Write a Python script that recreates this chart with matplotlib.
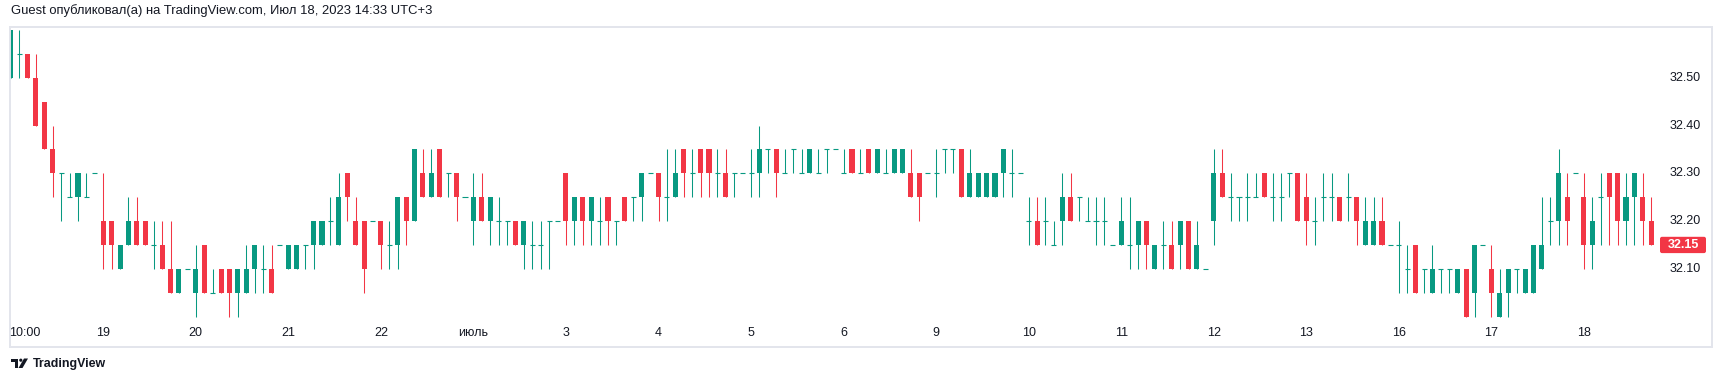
"""
Recreate TradingView snapshot: hourly candles, Jun 19 - Jul 18 2023
"""
import numpy as np
import matplotlib
matplotlib.use('Agg')
import matplotlib.pyplot as plt
from matplotlib.patches import FancyBboxPatch, Polygon, Circle
from matplotlib.transforms import blended_transform_factory, IdentityTransform

# ─── DATA ───────────────────────────────────────────────────────────────────
opens = [32.50, 32.55, 32.55, 32.50, 32.45, 32.35, 32.30, 32.25, 32.25, 32.25,
         32.30, 32.20, 32.20, 32.10, 32.15, 32.20, 32.20, 32.15, 32.15, 32.10,
         32.05, 32.10, 32.05, 32.15, 32.05, 32.10, 32.10, 32.05, 32.05, 32.10,
         32.10, 32.10, 32.15, 32.10, 32.10, 32.15, 32.15, 32.15, 32.20, 32.15,
         32.30, 32.20, 32.20, 32.20, 32.20, 32.15, 32.15, 32.25, 32.20, 32.30,
         32.25, 32.35, 32.30, 32.30, 32.25, 32.20, 32.25, 32.20, 32.20, 32.20,
         32.20, 32.15, 32.15, 32.15, 32.20, 32.20, 32.30, 32.20, 32.25, 32.20,
         32.20, 32.25, 32.20, 32.25, 32.25, 32.25, 32.30, 32.30, 32.25, 32.25,
         32.35, 32.30, 32.35, 32.35, 32.30, 32.30, 32.30, 32.30, 32.30, 32.30,
         32.35, 32.35, 32.30, 32.35, 32.30, 32.30, 32.30, 32.35, 32.35, 32.30,
         32.35, 32.30, 32.35, 32.30, 32.30, 32.30, 32.30, 32.30, 32.30, 32.30,
         32.30, 32.35, 32.35, 32.35, 32.25, 32.25, 32.25, 32.25, 32.30, 32.30,
         32.30, 32.20, 32.20, 32.20, 32.15, 32.20, 32.25, 32.25, 32.20, 32.20,
         32.20, 32.15, 32.15, 32.15, 32.15, 32.20, 32.10, 32.15, 32.15, 32.15,
         32.20, 32.10, 32.10, 32.20, 32.30, 32.25, 32.25, 32.25, 32.25, 32.30,
         32.25, 32.25, 32.30, 32.30, 32.25, 32.20, 32.25, 32.25, 32.25, 32.25,
         32.25, 32.15, 32.15, 32.20, 32.15, 32.15, 32.10, 32.15, 32.10, 32.05,
         32.10, 32.10, 32.05, 32.10, 32.05, 32.15, 32.10, 32.00, 32.05, 32.10,
         32.05, 32.05, 32.10, 32.20, 32.20, 32.25, 32.30, 32.25, 32.15, 32.25,
         32.30, 32.30, 32.20, 32.25, 32.25, 32.20]
highs = [32.60, 32.60, 32.55, 32.55, 32.45, 32.40, 32.30, 32.30, 32.30, 32.30,
         32.30, 32.30, 32.20, 32.15, 32.25, 32.25, 32.20, 32.20, 32.20, 32.20,
         32.10, 32.10, 32.15, 32.15, 32.10, 32.10, 32.10, 32.10, 32.15, 32.15,
         32.15, 32.15, 32.15, 32.15, 32.15, 32.15, 32.20, 32.20, 32.25, 32.30,
         32.30, 32.25, 32.20, 32.20, 32.20, 32.20, 32.25, 32.25, 32.35, 32.35,
         32.35, 32.35, 32.30, 32.30, 32.25, 32.30, 32.30, 32.25, 32.25, 32.20,
         32.20, 32.20, 32.20, 32.20, 32.20, 32.20, 32.30, 32.25, 32.25, 32.25,
         32.25, 32.25, 32.20, 32.25, 32.25, 32.30, 32.30, 32.30, 32.35, 32.35,
         32.35, 32.35, 32.35, 32.35, 32.35, 32.35, 32.30, 32.30, 32.35, 32.40,
         32.35, 32.35, 32.35, 32.35, 32.35, 32.35, 32.35, 32.35, 32.35, 32.35,
         32.35, 32.35, 32.35, 32.35, 32.35, 32.35, 32.35, 32.35, 32.30, 32.30,
         32.35, 32.35, 32.35, 32.35, 32.35, 32.30, 32.30, 32.30, 32.35, 32.35,
         32.30, 32.25, 32.25, 32.25, 32.20, 32.30, 32.30, 32.25, 32.25, 32.25,
         32.25, 32.15, 32.25, 32.25, 32.20, 32.20, 32.15, 32.20, 32.20, 32.20,
         32.20, 32.20, 32.10, 32.35, 32.35, 32.30, 32.25, 32.30, 32.30, 32.30,
         32.30, 32.30, 32.30, 32.30, 32.30, 32.25, 32.30, 32.30, 32.25, 32.30,
         32.25, 32.25, 32.25, 32.25, 32.15, 32.20, 32.15, 32.15, 32.10, 32.15,
         32.10, 32.10, 32.10, 32.10, 32.15, 32.15, 32.15, 32.10, 32.10, 32.10,
         32.10, 32.15, 32.25, 32.25, 32.35, 32.30, 32.30, 32.30, 32.25, 32.30,
         32.30, 32.30, 32.30, 32.30, 32.30, 32.25]
lows = [32.50, 32.50, 32.50, 32.40, 32.35, 32.25, 32.20, 32.25, 32.20, 32.25,
        32.30, 32.10, 32.10, 32.10, 32.15, 32.15, 32.15, 32.10, 32.10, 32.05,
        32.05, 32.10, 32.00, 32.05, 32.05, 32.05, 32.00, 32.00, 32.05, 32.05,
        32.05, 32.05, 32.15, 32.10, 32.10, 32.10, 32.10, 32.15, 32.15, 32.15,
        32.20, 32.15, 32.05, 32.20, 32.10, 32.10, 32.10, 32.15, 32.20, 32.25,
        32.25, 32.25, 32.25, 32.20, 32.25, 32.15, 32.20, 32.15, 32.15, 32.15,
        32.15, 32.10, 32.10, 32.10, 32.10, 32.20, 32.15, 32.15, 32.15, 32.15,
        32.15, 32.15, 32.15, 32.20, 32.20, 32.20, 32.30, 32.20, 32.20, 32.25,
        32.25, 32.25, 32.25, 32.25, 32.25, 32.25, 32.25, 32.30, 32.25, 32.25,
        32.30, 32.25, 32.30, 32.30, 32.30, 32.30, 32.30, 32.30, 32.35, 32.30,
        32.30, 32.30, 32.30, 32.30, 32.30, 32.30, 32.30, 32.25, 32.20, 32.30,
        32.25, 32.30, 32.30, 32.25, 32.25, 32.25, 32.25, 32.25, 32.25, 32.25,
        32.30, 32.15, 32.15, 32.15, 32.15, 32.15, 32.20, 32.20, 32.20, 32.15,
        32.15, 32.15, 32.15, 32.10, 32.10, 32.10, 32.10, 32.10, 32.10, 32.10,
        32.10, 32.10, 32.10, 32.15, 32.25, 32.20, 32.20, 32.20, 32.25, 32.25,
        32.20, 32.20, 32.25, 32.20, 32.15, 32.15, 32.20, 32.20, 32.20, 32.20,
        32.15, 32.15, 32.15, 32.15, 32.15, 32.05, 32.05, 32.05, 32.05, 32.05,
        32.05, 32.05, 32.05, 32.00, 32.00, 32.15, 32.00, 32.00, 32.00, 32.05,
        32.05, 32.05, 32.10, 32.15, 32.15, 32.15, 32.30, 32.10, 32.10, 32.15,
        32.15, 32.15, 32.15, 32.15, 32.15, 32.15]
closes = [32.60, 32.55, 32.50, 32.40, 32.35, 32.30, 32.30, 32.25, 32.30, 32.25,
          32.30, 32.15, 32.15, 32.15, 32.20, 32.15, 32.15, 32.15, 32.10, 32.05,
          32.10, 32.10, 32.10, 32.05, 32.05, 32.05, 32.05, 32.10, 32.10, 32.15,
          32.10, 32.05, 32.15, 32.15, 32.15, 32.15, 32.20, 32.20, 32.20, 32.25,
          32.25, 32.15, 32.10, 32.20, 32.15, 32.15, 32.25, 32.20, 32.35, 32.25,
          32.30, 32.25, 32.30, 32.25, 32.25, 32.25, 32.20, 32.25, 32.20, 32.20,
          32.15, 32.20, 32.15, 32.15, 32.20, 32.20, 32.20, 32.25, 32.20, 32.25,
          32.20, 32.20, 32.20, 32.20, 32.25, 32.30, 32.30, 32.25, 32.25, 32.30,
          32.30, 32.30, 32.30, 32.30, 32.30, 32.25, 32.30, 32.30, 32.30, 32.35,
          32.35, 32.30, 32.30, 32.35, 32.30, 32.35, 32.30, 32.35, 32.35, 32.30,
          32.30, 32.30, 32.30, 32.35, 32.30, 32.35, 32.35, 32.25, 32.25, 32.30,
          32.30, 32.35, 32.35, 32.25, 32.30, 32.30, 32.30, 32.30, 32.35, 32.30,
          32.30, 32.20, 32.15, 32.20, 32.15, 32.25, 32.20, 32.25, 32.20, 32.20,
          32.20, 32.15, 32.20, 32.15, 32.20, 32.15, 32.15, 32.15, 32.10, 32.20,
          32.10, 32.15, 32.10, 32.30, 32.25, 32.25, 32.25, 32.25, 32.25, 32.25,
          32.25, 32.25, 32.30, 32.20, 32.20, 32.20, 32.25, 32.25, 32.20, 32.25,
          32.20, 32.20, 32.20, 32.15, 32.15, 32.15, 32.10, 32.05, 32.10, 32.10,
          32.10, 32.10, 32.10, 32.00, 32.15, 32.15, 32.05, 32.05, 32.10, 32.10,
          32.10, 32.15, 32.15, 32.20, 32.30, 32.20, 32.30, 32.15, 32.20, 32.25,
          32.25, 32.20, 32.25, 32.30, 32.20, 32.15]

day_pos = [1.7, 11, 22, 33, 44, 55, 66, 77, 88, 99, 110, 121, 132, 143, 154, 165, 176, 187]
day_labels = ['10:00', '19', '20', '21', '22', 'июль', '3', '4', '5', '6',
              '9', '10', '11', '12', '13', '16', '17', '18']
price_ticks = [32.50, 32.40, 32.30, 32.20, 32.10]

header = 'Guest опубликовал(а) на TradingView.com, Июл 18, 2023 14:33 UTC+3'

# ─── STYLE ──────────────────────────────────────────────────────────────────
W, H, DPI = 1722, 382, 100
UP = '#089981'; DOWN = '#F23645'; TXT = '#131722'; BORDER = '#E3E5EC'
plt.rcParams['font.family'] = ['Liberation Sans', 'DejaVu Sans']

o = np.array(opens); h = np.array(highs); l = np.array(lows); c = np.array(closes)
x = np.arange(len(o))
cols = np.where(c >= o, UP, DOWN)

fig = plt.figure(figsize=(W / DPI, H / DPI), dpi=DPI)
fig.patch.set_facecolor('white')

# pane in pixels (from top-left): x 10..1711.7, y 27..346.7
ax_l, ax_t, ax_w, ax_h = 10, 27, 1701.7, 319.7
ax = fig.add_axes([ax_l / W, 1 - (ax_t + ax_h) / H, ax_w / W, ax_h / H])
step = 8.413                       # px per candle
x0 = -0.7 / step
ax.set_xlim(x0, x0 + ax_w / step)
ax.set_ylim(31.9369, 32.6065)
ax.set_xticks([]); ax.set_yticks([])
for s in ax.spines.values():
    s.set_color(BORDER); s.set_linewidth(1.4)

# candles
ax.vlines(x, l, h, colors=cols, linewidth=0.75)
body = np.abs(c - o)
ax.bar(x, body, bottom=np.minimum(o, c), width=0.6, color=cols, linewidth=0)
doji = body < 1e-9
ax.hlines(o[doji], x[doji] - 0.3, x[doji] + 0.3, colors=cols[doji], linewidth=0.8)

# price scale (inside pane)
bt = blended_transform_factory(ax.transAxes, ax.transData)
lab_x = (1685 - ax_l) / ax_w
for p in price_ticks:
    ax.text(lab_x, p, f'{p:.2f}', transform=bt, ha='center', va='center',
            fontsize=9, color=TXT)

# last price tag
tag_w = 46 / ax_w
tag_h = 16.3 / 23.875 * 0.05
aspect = (0.05 / 23.875) * ax_w
tag_x = (1660 - ax_l) / ax_w
ax.add_patch(FancyBboxPatch((tag_x, c[-1] - tag_h / 2), tag_w, tag_h,
                            boxstyle='round,pad=0,rounding_size=0.0012',
                            mutation_aspect=aspect, transform=bt,
                            fc=cols[-1], ec='none', clip_on=False, zorder=5))
ax.text(tag_x + tag_w / 2, c[-1], f'{c[-1]:.2f}', transform=bt, ha='center',
        va='center', fontsize=9, color='white', fontweight='bold', zorder=6)

# time scale
date_y = (ax_t + ax_h - 332.7) / ax_h
for pos, lab in zip(day_pos, day_labels):
    ax.text(pos, date_y, lab, transform=ax.get_xaxis_transform(), ha='center',
            va='center', fontsize=9, color=TXT)

# header / footer
fig.text(11 / W, 1 - 11 / H, header, ha='left', va='center', fontsize=9.4, color=TXT)
fig.text(33 / W, 1 - 363.5 / H, 'TradingView', ha='left', va='center',
         fontsize=8.9, fontweight='bold', color=TXT)

def flip(pts):
    return [(px_, H - py_) for px_, py_ in pts]

idt = IdentityTransform()
fig.add_artist(Polygon(flip([(11, 358.5), (18, 358.5), (18, 368), (15, 368),
                             (15, 361.5), (11, 361.5)]), closed=True,
                       fc=TXT, ec='none', transform=idt))
fig.add_artist(Circle((20.8, H - 360.2), 1.6, fc=TXT, ec='none', transform=idt))
fig.add_artist(Polygon(flip([(18.5, 368), (22.5, 368), (28, 358.5), (24, 358.5)]),
                       closed=True, fc=TXT, ec='none', transform=idt))

fig.savefig('out.png', dpi=DPI, facecolor='white')
